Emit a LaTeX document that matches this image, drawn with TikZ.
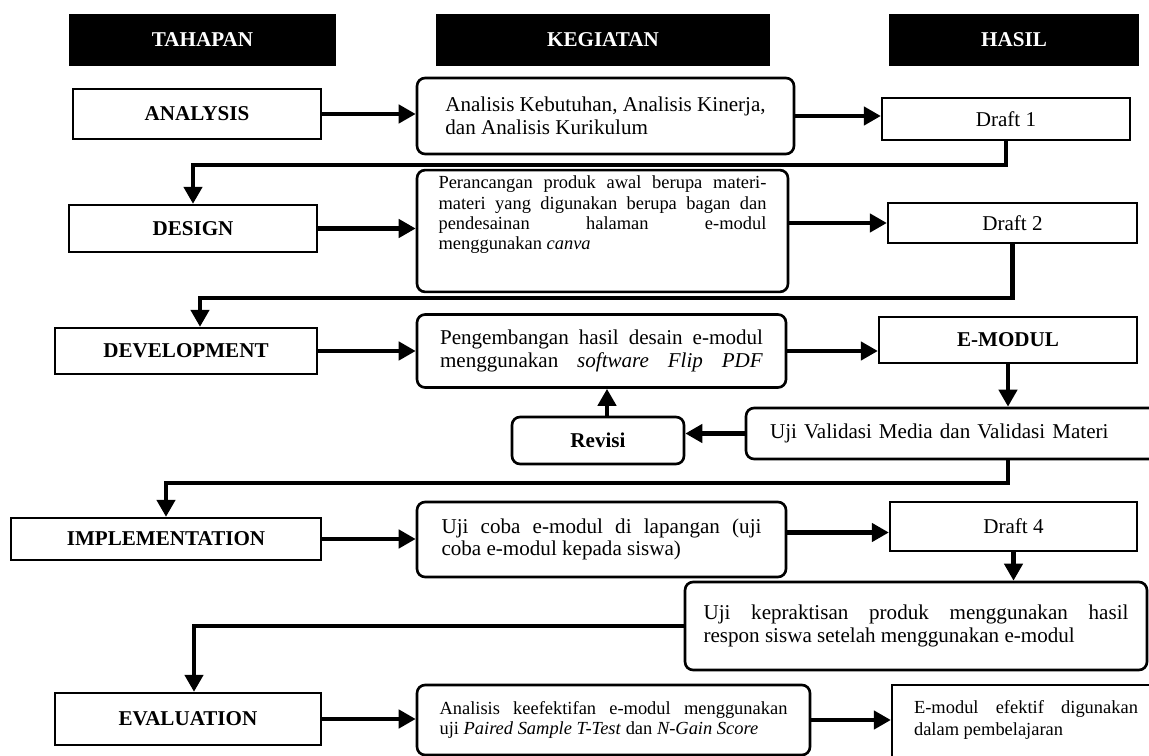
\documentclass[tikz,border=0pt]{standalone}
\usepackage{fontspec}
\setmainfont{Liberation Serif}
\usetikzlibrary{positioning,arrows}
\usetikzlibrary{shapes}
\usetikzlibrary{arrows.meta}
\usepackage{xcolor}

\begin{document}
\begin{tikzpicture}[x=0.02cm, y=-0.02cm]
  	\useasboundingbox (0,0) rectangle (1149,756);
  	\tikzstyle{every node}=[font=\fontsize{12}{13}\selectfont, inner sep=0pt]
  	\tikzstyle{header}=[fill=black, text=white, font=\fontsize{12}{13}\selectfont\bfseries, minimum height=1.04cm]
  	\tikzstyle{phase}=[draw, line width=1.3pt, font=\fontsize{12}{13}\selectfont\bfseries]
  	\tikzstyle{activity}=[draw, line width=1.5pt, rounded corners=0.16cm, align=justify]
  	\tikzstyle{result}=[draw, line width=1.3pt]
  	\tikzstyle{flow}=[line width=2.8pt, -{Triangle[length=0.34cm,width=0.36cm]}]
  	\draw (202.5,40) node (tahapan) [header, minimum width=5.34cm]{TAHAPAN};
  	\draw (603,40) node (kegiatan) [header, minimum width=6.68cm]{KEGIATAN};
  	\draw (1014,40) node (hasil) [header, minimum width=5cm]{HASIL};
  	\draw (197,114) node (analysis) [phase, minimum width=4.96cm, minimum height=1cm]{ANALYSIS};
  	\draw (193,228.5) node (design) [phase, minimum width=4.96cm, minimum height=0.94cm]{DESIGN};
  	\draw (186,351) node (development) [phase, minimum width=5.24cm, minimum height=0.92cm]{DEVELOPMENT};
  	\draw (166,539) node (implementation) [phase, minimum width=6.2cm, minimum height=0.84cm]{IMPLEMENTATION};
  	\draw (188,719) node (evaluation) [phase, minimum width=5.32cm, minimum height=1.04cm]{EVALUATION};
  	\draw (605.5,116) node (kAnalysis) [activity, minimum width=7.54cm, minimum height=1.52cm, align=left]{Analisis Kebutuhan, Analisis Kinerja,\\dan Analisis Kurikulum};
  	\draw (602.5,231) node (kDesign) [activity, minimum width=7.42cm, text width=6.56cm, inner ysep=0.12cm, text depth=1.94cm, font=\fontsize{10.5}{11.5}\selectfont]{Perancangan produk awal berupa materi-\linebreak materi yang digunakan berupa bagan dan\linebreak pendesainan halaman e-modul\linebreak menggunakan \textit{canva}};
  	\draw (601.5,351) node (kDevelop) [activity, minimum width=7.38cm, minimum height=1.46cm, text width=6.46cm]{Pengembangan hasil desain e-modul\linebreak menggunakan \textit{software Flip PDF}\parfillskip=0pt\par};
  	\draw (598,440.5) node (revisi) [activity, minimum width=3.44cm, minimum height=0.94cm, font=\fontsize{12}{13}\selectfont\bfseries]{Revisi};
  	\draw (955.5,433.5) node (validasi) [activity, minimum width=8.38cm, minimum height=1.02cm, text width=7.42cm, align=left]{Uji Validasi Media dan Validasi Materi};
  	\draw (601.5,539.5) node (kImplement) [activity, minimum width=7.38cm, minimum height=1.5cm, text width=6.4cm]{Uji coba e-modul di lapangan (uji\linebreak coba e-modul kepada siswa)};
  	\draw (916,626) node (praktis) [activity, minimum width=9.24cm, minimum height=1.76cm, text width=8.5cm]{Uji kepraktisan produk menggunakan hasil\linebreak respon siswa setelah menggunakan e-modul};
  	\draw (613.5,720) node (kEvaluate) [activity, minimum width=7.86cm, minimum height=1.4cm, text width=6.96cm, font=\fontsize{10.5}{11.5}\selectfont]{Analisis keefektifan e-modul menggunakan\linebreak uji \textit{Paired Sample T-Test} dan \textit{N-Gain Score}};
  	\draw (1006,119) node (draft1) [result, minimum width=4.96cm, minimum height=0.84cm]{Draft 1};
  	\draw (1012.5,223) node (draft2) [result, minimum width=4.98cm, minimum height=0.8cm]{Draft 2};
  	\draw (1008,340) node (emodul) [result, minimum width=5.16cm, minimum height=0.92cm, font=\fontsize{12}{13}\selectfont\bfseries]{E-MODUL};
  	\draw (1013.5,526.5) node (draft4) [result, minimum width=4.94cm, minimum height=0.98cm]{Draft 4};
  	\draw (1026,730) node (efektif) [result, minimum width=5.36cm, text width=4.48cm, inner ysep=0.3cm, text depth=0.94cm, align=justify, font=\fontsize{10.5}{13}\selectfont]{E-modul efektif digunakan\linebreak dalam pembelajaran};
  	\coordinate (turn1) at (0,165);
  	\coordinate (turn2) at (0,298);
  	\coordinate (turn3) at (0,483);
  	\coordinate (devtop) at ([xshift=0.28cm]development.north);
  	\coordinate (revtop) at ([xshift=0.18cm]revisi.north);
  	\coordinate (k4out) at ([yshift=0.14cm]kImplement.east);
  	\coordinate (evaltop) at ([xshift=0.12cm]evaluation.north);
  	\draw [flow] (analysis.east) -- (analysis.east -| kAnalysis.west);
  	\draw [flow] (kAnalysis.east) -- (kAnalysis.east -| draft1.west);
  	\draw [flow] (draft1.south) |- (design.north |- turn1) -- (design.north);
  	\draw [flow] (design.east) -- (design.east -| kDesign.west);
  	\draw [flow] (kDesign.east |- draft2) -- (draft2.west);
  	\draw [flow] (draft2.south) |- (devtop |- turn2) -- (devtop);
  	\draw [flow] (development.east) -- (development.east -| kDevelop.west);
  	\draw [flow] (kDevelop.east) -- (kDevelop.east -| emodul.west);
  	\draw [flow] (emodul.south) -- (emodul.south |- validasi.north);
  	\draw [flow] (validasi.west) -- (validasi.west -| revisi.east);
  	\draw [flow] (revtop) -- (revtop |- kDevelop.south);
  	\draw [flow] (emodul.south |- validasi.south) |- (implementation.north |- turn3) -- (implementation.north);
  	\draw [flow] (implementation.east) -- (implementation.east -| kImplement.west);
  	\draw [flow] (k4out) -- (k4out -| draft4.west);
  	\draw [flow] (draft4.south) -- (draft4.south |- praktis.north);
  	\draw [flow] (praktis.west) -| (evaltop);
  	\draw [flow] (evaluation.east) -- (evaluation.east -| kEvaluate.west);
  	\draw [flow] (kEvaluate.east) -- (kEvaluate.east -| efektif.west);
\end{tikzpicture}
\end{document}
